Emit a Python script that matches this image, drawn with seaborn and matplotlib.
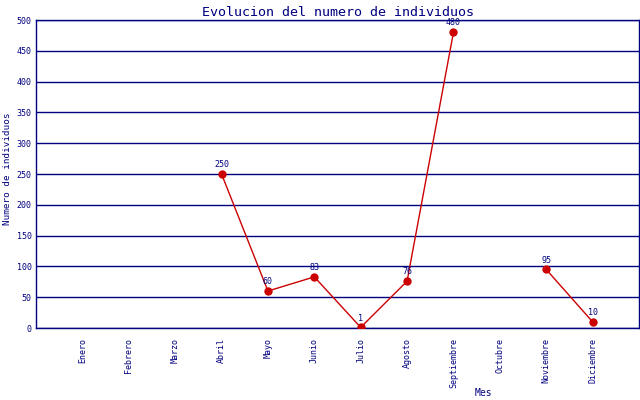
import matplotlib
matplotlib.use("Agg")
import matplotlib.pyplot as plt
import seaborn as sns
import numpy as np
import pandas as pd

# datos del grafico
meses = ['Enero', 'Febrero', 'Marzo', 'Abril', 'Mayo', 'Junio', 'Julio',
         'Agosto', 'Septiembre', 'Octubre', 'Noviembre', 'Diciembre']
individuos = [np.nan, np.nan, np.nan, 250, 60, 83, 1, 76, 480, np.nan, 95, 10]

azul = '#000080'
rojo = '#cc0000'

sns.set_style('white')
plt.rcParams['font.family'] = ['DejaVu Sans Mono', 'DejaVu Sans']

df = pd.DataFrame({'mes': meses, 'valor': individuos})
df['pos'] = range(len(meses))
# cada tramo continuo sin huecos se dibuja por separado
df['tramo'] = df['valor'].isna().cumsum()
datos = df.dropna()

fig = plt.figure(figsize=(6.4, 4.0), dpi=100)
ax = fig.add_axes([36 / 640, 72 / 400, 603 / 640, 308 / 400])

sns.lineplot(data=datos, x='pos', y='valor', units='tramo', estimator=None,
             color=rojo, linewidth=1, ax=ax, legend=False)
sns.scatterplot(data=datos, x='pos', y='valor', color=rojo, s=36,
                edgecolor=rojo, linewidth=0, ax=ax, legend=False, zorder=5)

for _, r in datos.iterrows():
    ax.annotate(f"{int(r['valor'])}", (r['pos'], r['valor']),
                xytext=(0, 3.5), textcoords='offset points', ha='center',
                va='bottom', fontsize=6, color=azul)

ax.set_xlim(-1, 12)
ax.set_ylim(0, 500)
ax.set_xticks(df['pos'])
ax.set_xticklabels(meses, rotation=90, fontsize=6, color=azul)
ax.set_yticks(range(0, 501, 50))
ax.tick_params(axis='y', labelsize=6, labelcolor=azul, length=0, pad=3)
ax.tick_params(axis='x', length=3, color=azul, direction='out', pad=4)
ax.yaxis.grid(True, color=azul, linewidth=1)
ax.xaxis.grid(False)
ax.set_axisbelow(True)
for s in ax.spines.values():
    s.set_color(azul)
    s.set_linewidth(1)

ax.set_xlabel('Mes', fontsize=7, color=azul, va='center')
ax.xaxis.set_label_coords((483 - 36) / 603, (328 - 393) / 308)
ax.set_ylabel('Numero de individuos', fontsize=6.7, color=azul, va='center')
ax.yaxis.set_label_coords((8 - 36) / 603, (328 - 169) / 308)
ax.set_title('Evolucion del numero de individuos', fontsize=9.6, color=azul, pad=3)

fig.savefig('out.png', dpi=100)
